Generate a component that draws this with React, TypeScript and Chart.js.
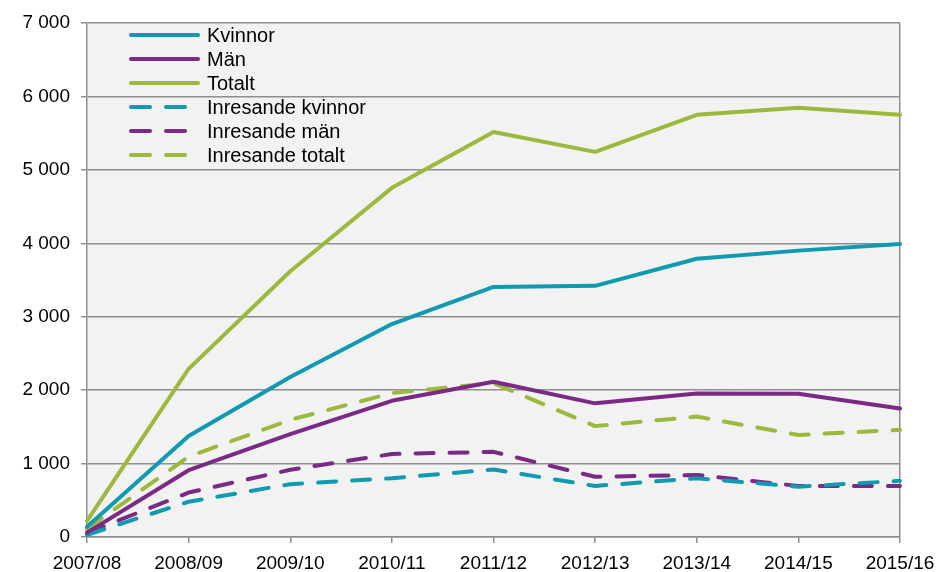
import React, { useEffect, useRef } from "react";
import { Chart, registerables } from "chart.js";

Chart.register(...registerables);

const categories = ["2007/08", "2008/09", "2009/10", "2010/11", "2011/12", "2012/13", "2013/14", "2014/15", "2015/16"];
const kvinnor = [140, 1375, 2180, 2900, 3405, 3420, 3790, 3900, 3990];
const man = [60, 910, 1400, 1855, 2115, 1820, 1955, 1950, 1750];
const totalt = [220, 2290, 3620, 4755, 5515, 5245, 5750, 5845, 5750];
const inresandeKvinnor = [30, 480, 720, 800, 920, 695, 800, 685, 765];
const inresandeMan = [55, 605, 915, 1130, 1160, 820, 845, 695, 695];
const inresandeTotalt = [110, 1095, 1595, 1960, 2095, 1510, 1640, 1390, 1460];
const yTicks = [0, 1000, 2000, 3000, 4000, 5000, 6000, 7000];

const TEAL = "#0f9ab0";
const PURPLE = "#7a2a84";
const GREEN = "#9bb93c";
const GRID = "#8e8e8e";
const DASH = [18, 16];
const FONT = "'Liberation Sans', Arial, sans-serif";

const fmt = (v: number) => {
  const s = String(Math.round(v));
  return s.replace(/\B(?=(\d{3})+(?!\d))/g, " ");
};

const legendPlugin = {
  id: "insideLegend",
  afterDatasetsDraw(chart: any) {
    const ctx = chart.ctx;
    const x0 = 131;
    const x1 = 198;
    const tx = 207;
    const y0 = 35;
    const step = 24;
    ctx.save();
    chart.data.datasets.forEach((ds: any, i: number) => {
      const y = y0 + i * step;
      ctx.beginPath();
      ctx.strokeStyle = ds.borderColor;
      ctx.lineWidth = 4;
      ctx.lineCap = "round";
      ctx.setLineDash(ds.borderDash && ds.borderDash.length ? [19, 16] : []);
      ctx.moveTo(x0, y);
      ctx.lineTo(x1, y);
      ctx.stroke();
      ctx.setLineDash([]);
      ctx.fillStyle = "#000";
      ctx.font = "20px " + FONT;
      ctx.textBaseline = "middle";
      ctx.textAlign = "left";
      ctx.fillText(ds.label, tx, y + 1);
    });
    ctx.restore();
  },
};

const bgPlugin = {
  id: "plotBg",
  beforeDraw(chart: any) {
    const { ctx, chartArea } = chart;
    ctx.save();
    ctx.fillStyle = "#f2f2f2";
    ctx.fillRect(chartArea.left, chartArea.top, chartArea.right - chartArea.left, chartArea.bottom - chartArea.top);
    ctx.restore();
  },
};

export default function App() {
  const ref = useRef<HTMLCanvasElement | null>(null);
  useEffect(() => {
    if (!ref.current) return;
    const mk = (label: string, data: number[], color: string, dashed: boolean) => ({
      label,
      data,
      borderColor: color,
      backgroundColor: color,
      borderWidth: 4,
      borderDash: dashed ? DASH : [],
      borderCapStyle: "round" as const,
      borderJoinStyle: "round" as const,
      pointRadius: 0,
      tension: 0,
      fill: false,
    });
    const chart = new Chart(ref.current, {
      type: "line",
      data: {
        labels: categories,
        datasets: [
          mk("Kvinnor", kvinnor, TEAL, false),
          mk("Män", man, PURPLE, false),
          mk("Totalt", totalt, GREEN, false),
          mk("Inresande kvinnor", inresandeKvinnor, TEAL, true),
          mk("Inresande män", inresandeMan, PURPLE, true),
          mk("Inresande totalt", inresandeTotalt, GREEN, true),
        ],
      },
      options: {
        animation: false,
        responsive: true,
        maintainAspectRatio: false,
        layout: { padding: { top: 23, right: 48, left: 0, bottom: 0 } },
        plugins: { legend: { display: false }, tooltip: { enabled: false } },
        scales: {
          x: {
            offset: false,
            grid: {
              display: true,
              drawOnChartArea: true,
              color: (c: any) => (c.index === categories.length - 1 ? GRID : "rgba(0,0,0,0)"),
              tickColor: GRID,
              tickLength: 6,
              lineWidth: 1.5,
            },
            border: { display: true, color: GRID, width: 1.5 },
            ticks: {
              color: "#000",
              font: { family: FONT, size: 19 },
              padding: 9,
              maxRotation: 0,
              autoSkip: false,
            },
            afterFit: (s: any) => {
              s.height = 35;
            },
          },
          y: {
            min: 0,
            max: 7000,
            afterBuildTicks: (s: any) => {
              s.ticks = yTicks.map((v) => ({ value: v }));
            },
            grid: { color: GRID, lineWidth: 1.5, tickLength: 6, tickColor: GRID },
            border: { display: true, color: GRID, width: 1.5 },
            ticks: {
              color: "#000",
              font: { family: FONT, size: 19 },
              padding: 11,
              callback: (v: any) => fmt(Number(v)),
            },
            afterFit: (s: any) => {
              s.width = 87;
            },
          },
        },
      },
      plugins: [bgPlugin, legendPlugin],
    });
    return () => chart.destroy();
  }, []);
  return (
    <div style={{ position: "fixed", left: 0, top: 0, width: 948, height: 572, background: "#fff" }}>
      <canvas ref={ref} />
    </div>
  );
}
